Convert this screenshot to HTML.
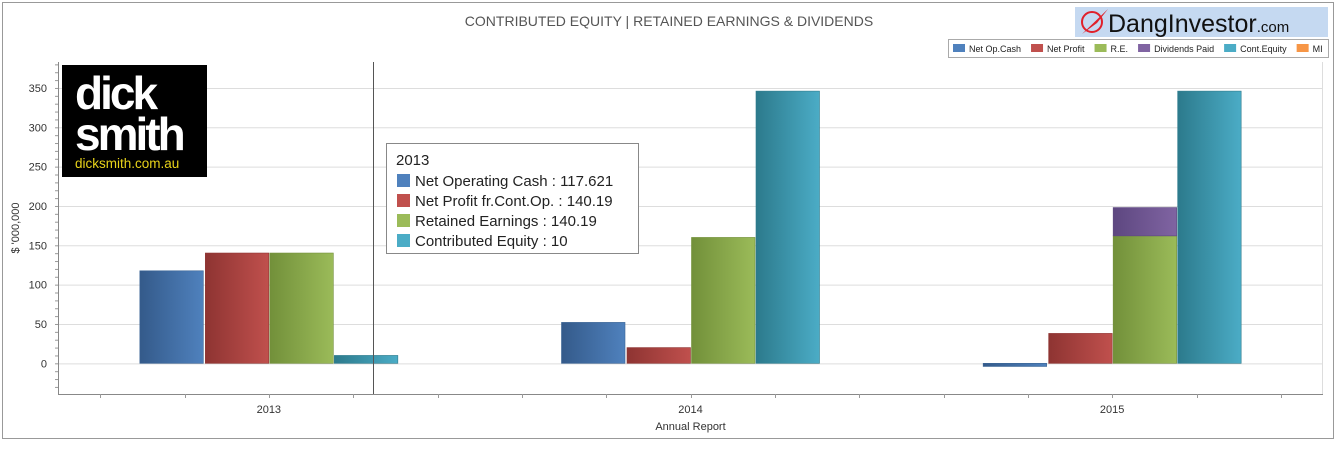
<!DOCTYPE html>
<html><head><meta charset="utf-8"><style>
body{margin:0;background:#fff;font-family:"Liberation Sans",Arial,sans-serif;}
svg text{font-family:"Liberation Sans",Arial,sans-serif;}
</style></head><body>
<svg width="1337" height="444">
<defs>
<linearGradient id="gb" x1="0" x2="1"><stop offset="0" stop-color="#345a8a"/><stop offset="1" stop-color="#4f81bd"/></linearGradient>
<linearGradient id="gr" x1="0" x2="1"><stop offset="0" stop-color="#8e3432"/><stop offset="1" stop-color="#c0504d"/></linearGradient>
<linearGradient id="gg" x1="0" x2="1"><stop offset="0" stop-color="#72903a"/><stop offset="1" stop-color="#9bbb59"/></linearGradient>
<linearGradient id="gp" x1="0" x2="1"><stop offset="0" stop-color="#5d4780"/><stop offset="1" stop-color="#8064a2"/></linearGradient>
<linearGradient id="gt" x1="0" x2="1"><stop offset="0" stop-color="#2c7a8c"/><stop offset="1" stop-color="#4bacc6"/></linearGradient>
</defs>
<rect x="2.5" y="2.5" width="1331" height="436" fill="#fff" stroke="#999"/>
<text x="669" y="26" text-anchor="middle" font-size="14" fill="#555">CONTRIBUTED EQUITY | RETAINED EARNINGS &amp; DIVIDENDS</text>
<g>
<rect x="1075" y="7" width="253" height="30" fill="#c5d9f1"/>
<circle cx="1092" cy="22" r="10" fill="none" stroke="#e0202a" stroke-width="2"/>
<path d="M1082 34 L1108 9 L1097 23 Z" fill="#e0202a"/>
<text x="1108" y="32" font-size="25" fill="#111">DangInvestor<tspan font-size="15">.com</tspan></text>
</g>
<g id="legend">
<rect x="948.5" y="39.5" width="380" height="18" fill="#fff" stroke="#aaa"/>
</g>
<g id="grid"></g>
<g>
<rect x="62" y="65" width="145" height="112" fill="#000"/>
<text x="75" y="109" font-size="46" font-weight="bold" fill="#fff" letter-spacing="-3">dick</text>
<text x="75" y="150" font-size="46" font-weight="bold" fill="#fff" letter-spacing="-3">smith</text>
<text x="75" y="168" font-size="13.5" fill="#e8d31a">dicksmith.com.au</text>
</g>
<g id="bars"></g>
<g id="axes"></g>
<line x1="373.5" y1="62" x2="373.5" y2="394" stroke="#555"/>
<g>
<rect x="386.5" y="143.5" width="252" height="110" fill="#fff" stroke="#888"/>
<text x="396" y="165" font-size="15" fill="#222">2013</text>
<rect x="397" y="174" width="13" height="13" fill="#4f81bd"/><text x="415" y="186" font-size="15" fill="#222">Net Operating Cash : 117.621</text>
<rect x="397" y="194" width="13" height="13" fill="#c0504d"/><text x="415" y="206" font-size="15" fill="#222">Net Profit fr.Cont.Op. : 140.19</text>
<rect x="397" y="214" width="13" height="13" fill="#9bbb59"/><text x="415" y="226" font-size="15" fill="#222">Retained Earnings : 140.19</text>
<rect x="397" y="234" width="13" height="13" fill="#4bacc6"/><text x="415" y="246" font-size="15" fill="#222">Contributed Equity : 10</text>
</g>
</svg>
<script>
const categories=["2013","2014","2015"];
const netOpCash=[117.621,52,-4];
const netProfit=[140.19,20,38];
const retained=[140.19,160,162];
const dividends=[0,0,36];
const contEquity=[10,346,346];
const yTicks=[0,50,100,150,200,250,300,350];
const legendLabels=["Net Op.Cash","Net Profit","R.E.","Dividends Paid","Cont.Equity","MI"];
const legendColors=["#4f81bd","#c0504d","#9bbb59","#8064a2","#4bacc6","#f79646"];
const NS="http://www.w3.org/2000/svg";
const L=58,R=1323,T=62,B=394,ymin=-39,ymax=383;
const y=v=>B-(v-ymin)/(ymax-ymin)*(B-T);
const catW=(R-L)/categories.length;
const cx=i=>L+catW*(i+0.5);
function mk(tag,attrs,parent,txt){const e=document.createElementNS(NS,tag);for(const k in attrs)e.setAttribute(k,attrs[k]);if(txt!==undefined)e.textContent=txt;parent.appendChild(e);return e;}
const grid=document.getElementById('grid'),bars=document.getElementById('bars'),axes=document.getElementById('axes'),leg=document.getElementById('legend');
yTicks.forEach(t=>{
 const l=mk('line',{x1:L,x2:R,y1:y(t)+0.5,y2:y(t)+0.5,stroke:'#ddd'},grid);
 
 
 const tx=mk('text',{x:47,y:y(t)+4,'text-anchor':'end','font-size':11,fill:'#333'},axes,String(t));
 
 
});
for(let v=-30;v<=380;v+=10){mk('line',{x1:55,x2:58,y1:y(v)+0.5,y2:y(v)+0.5,stroke:'#999'},axes);}
mk('line',{x1:L+0.5,x2:L+0.5,y1:T,y2:B,stroke:'#888'},axes);
mk('line',{x1:L,x2:R,y1:B+0.5,y2:B+0.5,stroke:'#888'},axes);
mk('line',{x1:R-0.5,x2:R-0.5,y1:T,y2:B,stroke:'#ddd'},axes);
for(let i=0;i<categories.length*5;i++){const x=Math.round(L+catW/5*(i+0.5))+0.5;mk('line',{x1:x,x2:x,y1:B,y2:B+4,stroke:'#999'},axes);}
const series=[[netOpCash,'url(#gb)','#3a6494'],[netProfit,'url(#gr)','#8e3432'],[retained,'url(#gg)','#72903a'],[contEquity,'url(#gt)','#2c7a8c']];
const bw=64.5;
categories.forEach((c,i)=>{
 const start=cx(i)-129;
 series.forEach((s,j)=>{
  const v=s[0][i];const x=start+j*bw+ (j>0?1:0);
  const r=mk('rect',{x:x,y:Math.min(y(v),y(0)),width:bw-1,height:Math.max(Math.abs(y(v)-y(0)),1),fill:s[1],stroke:s[2],'stroke-width':0.6},bars);
  
  
  if(j===2&&dividends[i]>0){
   const d=mk('rect',{x:x,y:y(v+dividends[i]),width:bw-1,height:y(v)-y(v+dividends[i]),fill:'url(#gp)',stroke:'#5d4780','stroke-width':0.6},bars);
   
   
  }
 });
 const t=mk('text',{x:cx(i),y:B+19,'text-anchor':'middle','font-size':11,fill:'#333'},axes,c);
 
 
});
const xt=mk('text',{x:(L+R)/2,y:430,'text-anchor':'middle','font-size':11,fill:'#333'},axes,'Annual Report');


const yt=mk('text',{x:0,y:0,transform:'translate(19,228) rotate(-90)','text-anchor':'middle','font-size':11,fill:'#333'},axes,"$ '000,000");


let lx=953;
legendLabels.forEach((lab,k)=>{
 const g=mk('g',{},leg);
 
 
 mk('rect',{x:lx,y:44,width:12,height:8,fill:legendColors[k]},g);
 const t=mk('text',{x:lx+16,y:52,'font-size':9,fill:'#222'},g,lab);
 lx+=16+t.getComputedTextLength()+10;
});
</script>
</body></html>
